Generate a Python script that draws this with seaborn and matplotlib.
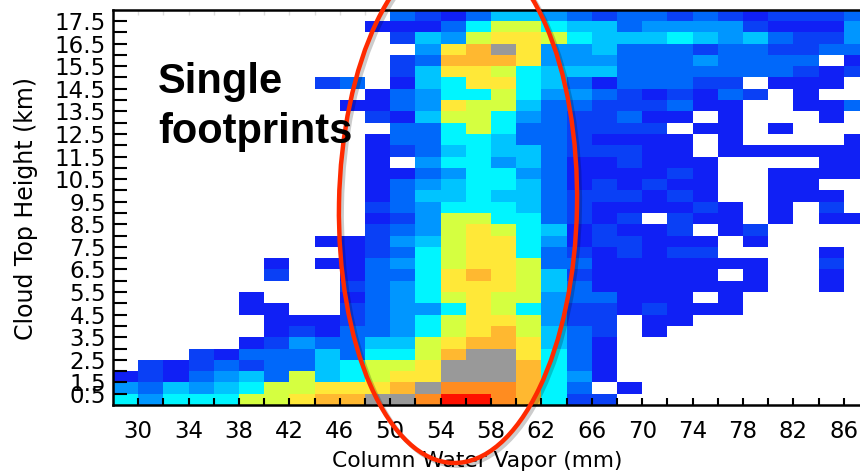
import numpy as np
import pandas as pd
import matplotlib
matplotlib.use('Agg')
import matplotlib.pyplot as plt
import matplotlib.patheffects as pe
from matplotlib.colors import ListedColormap
from matplotlib.patches import Ellipse
from matplotlib.transforms import IdentityTransform, ScaledTranslation
import seaborn as sns

# colour level of every cell, top row first, one letter per 2 mm bin ('.' = no data)
rows_top = [
    "...........cbaceedcbccbcbabbbc",
    "..........aaacfggfeecddddbaaad",
    "...........bedghhgfeeefedecbbd",
    "............dhijhddecccbccbbcc",
    "...........bciiihdddcccdcccc.a",
    "...........behhgfeeecccccccbab",
    "........bc.aefhhfecacccbb.aaa.",
    "..........acdffgfddcbabacb.a..",
    ".........aacdhggeccbbbcaa..aac",
    "..........baeggfdcbbcaa.a...a.",
    "...........ccfgfccbbbb.aa.a...",
    "..........accffeccbaaaa.a....a",
    "..........abcefeecbbbaa.aaaaaa",
    "..........a.dffdecaabaaa....aa",
    "..........aacdffdcaaaaba..aaaa",
    "..........acdeffecababaa..aa..",
    "..........aceefeecbbbaba..aaa.",
    "..........bcdfffecbaaaaba.a.b.",
]
rows_bottom = [
    "..........abdggffcbab.baa.a.aa",
    "..........bcdghgfeabaab.ab....",
    "........aabdeghhfdabbaaa.a....",
    ".........abcfghhfcbababb....a.",
    "......a.aacdfghhgccaaaaaaa..b.",
    "......b..accfhihgebaaaaa.a..a.",
    ".........bcdfhhhgecaaaaaaa..a.",
    ".....a...acdfghggdccaaa.a.....",
    ".....aa..bcddfhgfdbbabaaa.....",
    "......aaabcdfghhgdbb.aa.......",
    "......abaccdfghigecb.a........",
    ".....abdcceeghiiheca..........",
    "...bacccecffgijjhfca..........",
    ".babcbccefgghjjjifca..........",
    "abacdecgefghhjjjifda..........",
    "dcedefgghhhijkkkifc.a.........",
    "fdfffgghiijjkllkifbb..........",
]
levels = 'abcdefghijkl'
level_colors = ['#1020f5', '#0a40f5', '#0068fa', '#0096ff', '#00c4ff', '#00f5ff',
                '#d5ff40', '#ffe838', '#ffb830', '#999999', '#ff8c20', '#ff1000']

x_labels = ['30', '34', '38', '42', '46', '50', '54', '58', '62', '66', '70', '74', '78', '82', '86']
y_labels = ['17.5', '16.5', '15.5', '14.5', '13.5', '12.5', '11.5', '10.5', '9.5',
            '8.5', '7.5', '6.5', '5.5', '4.5', '3.5', '2.5', '1.5', '0.5']

rows = rows_top + rows_bottom
grid = pd.DataFrame([[levels.find(c) if c != '.' else np.nan for c in r] for r in rows], dtype=float)

sns.set_style('white')
plt.rcParams['font.family'] = ['DejaVu Sans']
plt.rcParams['text.color'] = 'black'
plt.rcParams['xtick.labelcolor'] = 'black'
plt.rcParams['ytick.labelcolor'] = 'black'

W, H = 860, 474
fig = plt.figure(figsize=(W / 100, H / 100), dpi=100)
ax = fig.add_axes([113 / W, (H - 405) / H, 30 * 25.2 / W, 395.3 / H])

sns.heatmap(grid, ax=ax, cmap=ListedColormap(level_colors), vmin=-0.5, vmax=11.5, cbar=False,
            xticklabels=False, yticklabels=False, linewidths=0)
ax.set_axisbelow(False)

# ticks sit on the cell edges, labels on every second one
ax.set_xticks(np.arange(1, 30))
ax.set_xticklabels([x_labels[i // 2] if i % 2 == 0 else '' for i in range(29)], fontsize=16.5, rotation=0)
ax.set_yticks(np.arange(1, 35))
y_text = []
for edge in range(34, 0, -1):
    if edge >= 2 and edge % 2 == 0:
        y_text.append(y_labels[(34 - edge) // 2])
    elif edge == 1:
        y_text.append(y_labels[-1])
    else:
        y_text.append('')
ax.set_yticklabels(y_text, fontsize=16.5, rotation=0, va='center')
ax.tick_params(axis='x', direction='in', length=5, width=1.5, color='black', pad=11, bottom=True)
ax.tick_params(axis='y', direction='in', length=10, width=1.5, color='black', pad=5, left=True)
ax.vlines(np.arange(1, 11), 0, 0.5, color='#dddddd', lw=1)

# y labels sit a little under their ticks in the original
nudge = ScaledTranslation(0, -2.5 / 100, fig.dpi_scale_trans)
for lbl in ax.get_yticklabels():
    lbl.set_transform(lbl.get_transform() + nudge)

for side in ['left', 'bottom', 'top']:
    ax.spines[side].set_visible(True)
    ax.spines[side].set_color('black')
    ax.spines[side].set_linewidth(1.8)
ax.spines['right'].set_visible(False)

fig.text(477 / W, (H - 461) / H, 'Column Water Vapor (mm)', fontsize=15.7, ha='center', va='center')
fig.text(26 / W, (H - 208) / H, 'Cloud Top Height (km)', fontsize=17, rotation=90, ha='center', va='center')

# hand drawn red ellipse from the slide, in pixels
loop = Ellipse((458, H - 205), 238, 516, angle=-1, fill=False, edgecolor='#ff2a00', lw=3.2,
               transform=IdentityTransform(), zorder=5,
               path_effects=[pe.SimpleLineShadow(offset=(2, -2), alpha=0.2, shadow_color='black'), pe.Normal()])
fig.add_artist(loop)

fig.text(158 / W, (H - 93) / H, 'Single', fontsize=30, fontweight='bold', family='Liberation Sans', zorder=6, va='baseline')
fig.text(158 / W, (H - 143) / H, 'footprints', fontsize=30, fontweight='bold', family='Liberation Sans', zorder=6, va='baseline')

fig.savefig('out.png', dpi=100)
